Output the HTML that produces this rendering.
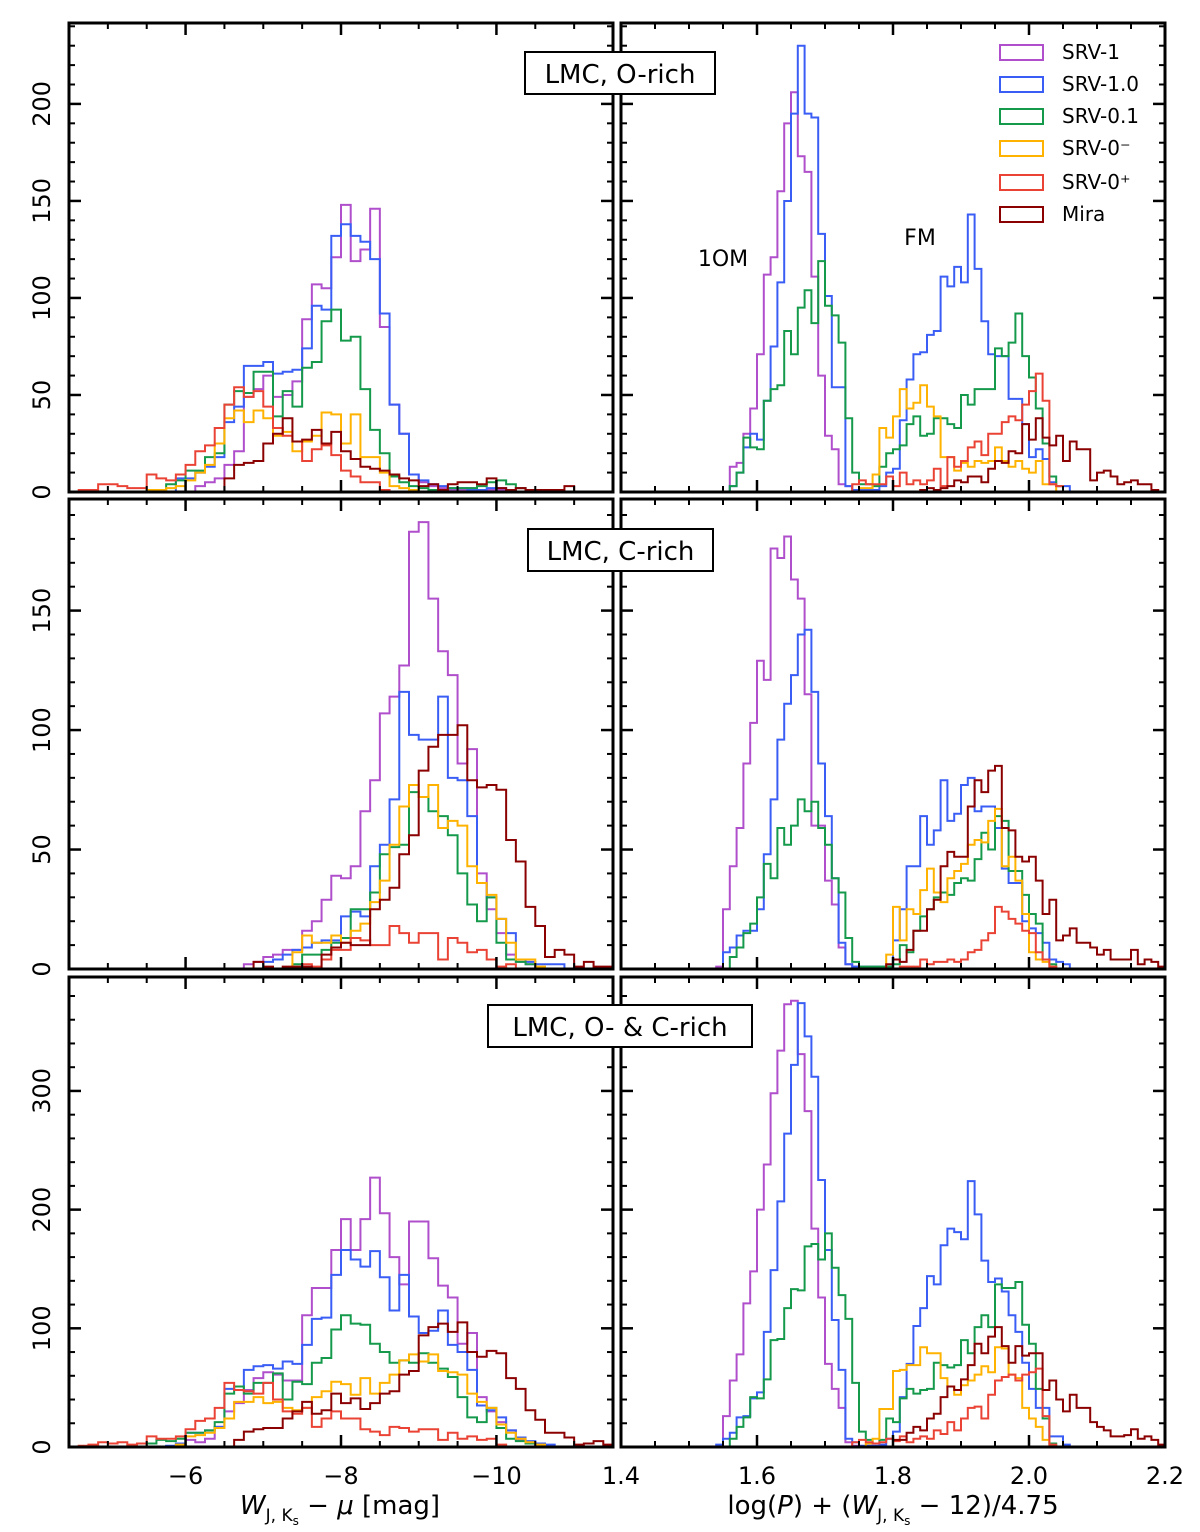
<!DOCTYPE html>
<html><head><meta charset="utf-8">
<style>
html,body{margin:0;padding:0;background:#fff;}
svg{display:block;font-family:"DejaVu Sans","Liberation Sans",sans-serif;}
</style></head>
<body>
<svg id="fig" width="1200" height="1532" viewBox="0 0 1200 1532" xmlns="http://www.w3.org/2000/svg"></svg>
<script>
// ---- data: bin counts (left bins 0.125 mag starting at -4.5; right bins 0.01 starting at 1.4) ----
const seriesNames = ["SRV-1","SRV-1.0","SRV-0.1","SRV-0\u207B","SRV-0\u207A","Mira"];
const seriesColors = ["#b04fcc","#3a5ef5","#159a4c","#ffb300","#ea4335","#8b0000"];

// top-left (O-rich, magnitude)
const tlStarts = [13,11,9,8,1,16];
const tlSrv1 = [3,5,7,14,21,49,53,60,49,50,57,89,107,105,121,148,119,125,146,85,45,30,9,5,3,2,1,1,2,1,1,1,1,2,1];
const tlSrv10 = [7,7,10,13,18,36,44,65,65,67,61,62,63,74,96,94,132,138,132,129,120,92,45,30,9,6,4,3,2,2,1,1,2,2,1];
const tlSrv01 = [1,4,6,11,11,18,20,45,52,51,62,62,39,52,44,64,67,88,94,78,80,53,32,20,8,5,3,2,1,1,2,2,2,3,5,6,4,2,1];
const tlSrv0m = [1,1,2,3,6,10,14,25,38,42,36,42,38,29,31,21,26,29,41,40,25,40,18,18,10,3,2,1];
const tlSrv0p = [1,1,4,4,3,2,2,9,7,6,9,14,21,24,33,45,54,49,52,44,33,29,26,16,22,24,19,11,8,5,5,1];
const tlMira = [7,14,15,16,25,30,38,26,27,32,25,31,21,17,13,12,11,9,7,6,3,4,1,4,5,5,4,7,2,1,2,1,1,1,1,3];

// top-right (O-rich, period)
const trStarts = [16,16,16,35,34,44];
const trSrv1 = [13,15,30,43,71,112,121,155,190,206,173,165,111,60,29,22,4,3];
const trSrv10 = [3,10,23,30,27,47,75,108,150,195,230,195,193,133,101,54,54,3,1,1,1,1,3,10,12,37,58,71,72,81,83,111,106,116,108,143,115,88,71,70,70,48,48,35,18,22,17,5,3,3];
const trSrv01 = [3,10,28,23,22,47,53,55,83,71,95,104,87,119,96,91,77,38,10,4,4,3,13,20,22,24,35,39,29,30,38,38,35,33,50,45,53,53,53,74,70,77,92,70,59,43,25,8,3];
const trSrv0m = [2,2,9,33,28,39,53,43,46,55,44,39,18,18,11,15,13,16,15,16,23,16,13,16,12,10,16,4,4];
const trSrv0p = [4,6,4,4,4,8,3,10,4,6,4,6,12,3,18,13,16,23,26,19,30,30,36,39,37,45,52,61,47,4,3];
const trMira = [1,2,1,2,3,6,5,8,8,5,12,16,15,21,20,35,27,38,28,24,29,16,26,22,22,6,10,11,8,4,5,6,4,4,1];

// middle-left (C-rich, magnitude)
const mlStarts = [18,20,23,23,24,19];
const mlSrv1 = [2,3,5,6,8,8,16,20,29,39,38,43,66,79,107,114,127,183,187,155,133,123,86,92,40,25,15,6,3,2];
const mlSrv10 = [3,4,6,8,9,11,12,12,22,24,22,43,52,71,116,98,96,96,114,80,79,64,36,30,21,15,4,3,2,2,2];
const mlSrv01 = [2,6,6,8,11,13,25,25,32,48,51,52,74,72,66,64,56,40,27,20,30,11,4,3,2];
const mlSrv0m = [7,14,11,11,14,11,16,19,28,37,52,68,77,72,77,59,62,60,43,36,31,21,11,4,4,1];
const mlSrv0p = [2,1,4,8,8,13,12,10,10,18,15,11,15,15,4,13,11,7,8,4,1,2];
const mlMira = [3,1,0,1,1,1,0,6,9,11,10,10,25,29,34,48,56,83,93,98,98,102,79,76,77,75,54,45,26,18,5,8,6,1,3,1,1];

// middle-right (C-rich, period)
const mrStarts = [14,15,16,39,41,39];
const mrSrv1 = [1,25,43,59,86,103,129,121,176,172,181,163,155,115,60,60,37,27,9,2,1];
const mrSrv10 = [7,9,14,16,16,25,48,71,96,111,123,140,142,116,86,64,38,11,2,1,1,1,1,1,1,12,25,43,43,64,52,58,79,62,65,77,80,66,68,68,59,42,36,36,20,17,15,11,4,3,2];
const mrSrv01 = [5,9,15,19,30,44,38,59,52,60,71,66,70,59,52,38,32,13,3,1,1,1,1,1,2,10,7,16,22,25,30,32,31,36,38,37,46,57,50,64,62,41,41,31,23,19,4,2];
const mrSrv0m = [6,26,12,25,23,33,42,32,28,38,41,44,52,54,53,62,67,43,47,37,23,7,4,3,1];
const mrSrv0p = [1,1,1,4,2,3,3,4,3,4,7,8,12,15,26,24,21,19,16,15,7,4,1];
const mrMira = [2,4,3,8,16,16,25,29,43,49,47,47,68,79,74,83,85,59,58,47,45,47,37,23,29,12,14,17,11,11,9,6,8,4,4,4,8,2,4,3,1];

// bottom-left (O- & C-rich, magnitude)
const blStarts = [12,10,8,11,1,17];
const blSrv1 = [6,4,7,17,30,37,48,58,63,61,56,56,111,134,134,166,192,166,192,227,197,160,137,190,190,159,136,126,87,96,42,30,21,14,6,3,1];
const blSrv10 = [1,3,12,12,14,17,49,48,65,68,69,66,72,70,86,108,109,145,166,158,152,165,143,115,145,110,96,98,115,86,80,65,35,31,25,14,8,5,3,2];
const blSrv01 = [3,6,5,7,12,12,14,21,45,51,45,54,54,62,40,55,53,71,75,99,111,104,103,87,80,71,73,71,79,71,66,59,42,25,21,33,16,7,5,3];
const blSrv0m = [2,9,10,12,16,24,38,38,42,37,38,33,31,33,42,47,55,53,44,58,45,54,61,73,78,72,78,64,63,61,45,38,33,19,12,7,4,2];
const blSrv0p = [1,2,4,3,4,2,3,9,7,7,9,15,22,24,33,54,48,47,45,54,40,30,28,33,17,24,30,24,24,15,13,10,17,16,13,15,15,6,12,7,9,6,7,2];
const blMira = [6,13,15,16,16,24,30,38,28,31,45,37,41,32,37,45,47,61,64,94,101,104,97,105,80,76,81,79,58,49,31,23,12,12,8,2,3,5,2];

// bottom-right (O- & C-rich, period)
const brStarts = [15,14,16,36,34,40];
const brSrv1 = [26,56,78,121,148,200,238,298,334,373,376,331,283,184,126,70,49,33,4,1];
const brSrv10 = [2,7,12,25,26,41,46,97,149,207,264,322,374,346,312,225,166,107,65,7,4,1,1,1,2,7,13,42,70,102,117,144,137,170,184,181,175,224,196,157,139,142,131,111,97,71,49,33,33,9,9,2];
const brSrv01 = [7,17,25,42,41,57,90,91,117,133,132,169,171,158,180,151,128,108,54,13,6,3,6,24,21,41,49,45,48,49,71,69,67,69,90,79,101,111,101,137,134,134,139,103,87,49,24,3];
const brSrv0m = [3,7,32,32,64,65,69,69,84,79,79,58,51,44,52,56,61,68,63,84,83,61,58,33,24,17,6,1];
const brSrv0p = [4,6,4,3,4,7,5,9,4,7,9,7,14,11,21,14,24,33,34,24,44,56,59,61,56,61,63,66,26,2];
const brMira = [6,6,12,17,14,24,28,42,51,48,57,69,87,79,93,101,85,71,85,77,79,79,48,56,40,30,44,33,33,21,17,14,9,9,10,15,7,9,6,2];

// axis / tick definitions
const magDomain = [-4.5, -11.5];
const magBin = 0.125;
const perDomain = [1.4, 2.2];
const perBin = 0.01;
const rowYMax = [241.7, 196.7, 396];
const rowYMajor = [50, 50, 100];
const rowYMinor = [10, 10, 20];
const rowYLabels = [[0,50,100,150,200],[0,50,100,150],[0,100,200,300]];
const magTickLabels = [-6,-8,-10];
const perTickLabels = [1.4,1.6,1.8,2.0,2.2];
const panelTitles = ["LMC, O-rich","LMC, C-rich","LMC, O- & C-rich"];

// ---- rendering ----
const NS = "http://www.w3.org/2000/svg";
const svg = document.getElementById("fig");
function mk(tag, attrs, parent){
  const e = document.createElementNS(NS, tag);
  for (const k in attrs) e.setAttribute(k, attrs[k]);
  (parent||svg).appendChild(e);
  return e;
}
const colX = [[69,613],[621,1165]];
const rowY = [[23,492],[499,969],[977,1447]];

const panelData = [
  [[tlStarts,[tlSrv1,tlSrv10,tlSrv01,tlSrv0m,tlSrv0p,tlMira]],[trStarts,[trSrv1,trSrv10,trSrv01,trSrv0m,trSrv0p,trMira]]],
  [[mlStarts,[mlSrv1,mlSrv10,mlSrv01,mlSrv0m,mlSrv0p,mlMira]],[mrStarts,[mrSrv1,mrSrv10,mrSrv01,mrSrv0m,mrSrv0p,mrMira]]],
  [[blStarts,[blSrv1,blSrv10,blSrv01,blSrv0m,blSrv0p,blMira]],[brStarts,[brSrv1,brSrv10,brSrv01,brSrv0m,brSrv0p,brMira]]]
];
const rowNames = ["o-rich","c-rich","combined"];
const defs = mk("defs",{});

for (let r=0;r<3;r++){
  const [y0,y1] = rowY[r];
  const yScale = v => y1 - v/rowYMax[r]*(y1-y0);
  for (let c=0;c<2;c++){
    const [x0,x1] = colX[c];
    const dom = c===0 ? magDomain : perDomain;
    const xScale = v => x0 + (v-dom[0])/(dom[1]-dom[0])*(x1-x0);
    const binW = c===0 ? -magBin : perBin;
    const pname = rowNames[r]+"-"+(c===0?"magnitude":"period")+"-panel";
    const g = mk("g",{});
    
    
    const clipId = "clip"+r+c;
    const cp = mk("clipPath",{id:clipId},defs);
    mk("rect",{x:x0,y:y0,width:x1-x0,height:y1-y0},cp);
    const hg = mk("g",{"clip-path":"url(#"+clipId+")"},g);
    const [starts, vals] = panelData[r][c];
    for (let s=0;s<6;s++){
      const arr = vals[s], st = starts[s];
      let d = "M"+xScale(dom[0]+st*binW).toFixed(2)+","+y1;
      for (let i=0;i<arr.length;i++){
        const xa = xScale(dom[0]+(st+i)*binW), xb = xScale(dom[0]+(st+i+1)*binW);
        const yy = yScale(arr[i]);
        d += " L"+xa.toFixed(2)+","+yy.toFixed(2)+" L"+xb.toFixed(2)+","+yy.toFixed(2);
      }
      d += " L"+xScale(dom[0]+(st+arr.length)*binW).toFixed(2)+","+y1;
      const p = mk("path",{d:d,fill:"none",stroke:seriesColors[s],"stroke-width":2,"stroke-linejoin":"miter"},hg);
      
      
    }
    // ticks
    const tg = mk("g",{stroke:"#000"},g);
    
    
    let xMinor, xMajorStep;
    if (c===0){ xMinor=0.5; xMajorStep=2; }
    else { xMinor=0.05; xMajorStep=0.2; }
    const lo = Math.min(dom[0],dom[1]), hi = Math.max(dom[0],dom[1]);
    for (let k=Math.ceil(lo/xMinor-1e-6); k*xMinor<=hi+1e-6; k++){
      const v = k*xMinor;
      const isMaj = Math.abs(v/xMajorStep - Math.round(v/xMajorStep))<1e-6;
      const L = isMaj?12:6, W = isMaj?2.5:2;
      const x = xScale(v);
      if (x<x0+1 || x>x1-1) continue;
      mk("line",{x1:x,y1:y1,x2:x,y2:y1-L,"stroke-width":W},tg);
      mk("line",{x1:x,y1:y0,x2:x,y2:y0+L,"stroke-width":W},tg);
    }
    for (let v=0; v<=rowYMax[r]; v+=rowYMinor[r]){
      const isMaj = v % rowYMajor[r] === 0;
      const L = isMaj?12:6, W = isMaj?2.5:2;
      const y = yScale(v);
      if (y<y0+1 || y>y1-1) continue;
      mk("line",{x1:x0,y1:y,x2:x0+L,y2:y,"stroke-width":W},tg);
      mk("line",{x1:x1,y1:y,x2:x1-L,y2:y,"stroke-width":W},tg);
    }
    const fr = mk("rect",{x:x0,y:y0,width:x1-x0,height:y1-y0,fill:"none",stroke:"#000","stroke-width":3},g);
    
    
    if (c===0){
      for (const v of rowYLabels[r]){
        const y = yScale(v);
        const t = mk("text",{x:0,y:0,transform:"translate(50,"+y.toFixed(1)+") rotate(-90)","text-anchor":"middle","font-size":24,fill:"#000"});
        t.textContent = String(v);
        
        
      }
    }
    if (r===2){
      const labs = c===0 ? magTickLabels : perTickLabels;
      for (const v of labs){
        const t = mk("text",{x:xScale(v),y:1484,"text-anchor":"middle","font-size":24,fill:"#000"});
        t.textContent = c===0 ? "\u2212"+Math.abs(v) : v.toFixed(1);
        
        
      }
    }
  }
}

// panel title boxes
const titleBoxes = [[525,52,190,42],[528,529,185,42],[488,1005,264,42]];
for (let r=0;r<3;r++){
  const [bx,by,bw,bh] = titleBoxes[r];
  const g = mk("g",{});
  
  
  mk("rect",{x:bx,y:by,width:bw,height:bh,fill:"#fff",stroke:"#000","stroke-width":2},g);
  const t = mk("text",{x:bx+bw/2,y:by+31,"text-anchor":"middle","font-size":26,fill:"#000"},g);
  t.textContent = panelTitles[r];
}

// annotations
const a1 = mk("text",{x:723,y:266,"text-anchor":"middle","font-size":22,fill:"#000"});
a1.textContent = "1OM";


const a2 = mk("text",{x:920,y:245,"text-anchor":"middle","font-size":22,fill:"#000"});
a2.textContent = "FM";



// legend
const lg = mk("g",{});


for (let s=0;s<6;s++){
  const y = [52,84,116,148,182,214][s];
  const e = mk("g",{},lg);
  
  
  mk("rect",{x:1000,y:y-7,width:43,height:15,fill:"none",stroke:seriesColors[s],"stroke-width":2},e);
  const t = mk("text",{x:1062,y:y+7,"font-size":20,fill:"#000"},e);
  t.textContent = seriesNames[s];
}

// axis titles
const xt1 = mk("text",{x:340,y:1514,"text-anchor":"middle","font-size":26,fill:"#000"});
xt1.innerHTML = '<tspan font-style="italic">W</tspan><tspan font-size="17" dy="7">J, K</tspan><tspan font-size="12" dy="4">s</tspan><tspan dy="-11"> \u2212 </tspan><tspan font-style="italic">\u03BC</tspan><tspan> [mag]</tspan>';


const xt2 = mk("text",{x:893,y:1514,"text-anchor":"middle","font-size":26,fill:"#000"});
xt2.innerHTML = 'log(<tspan font-style="italic">P</tspan>) + (<tspan font-style="italic">W</tspan><tspan font-size="17" dy="7">J, K</tspan><tspan font-size="12" dy="4">s</tspan><tspan dy="-11"> \u2212 12)/4.75</tspan>';


</script>
</body></html>
